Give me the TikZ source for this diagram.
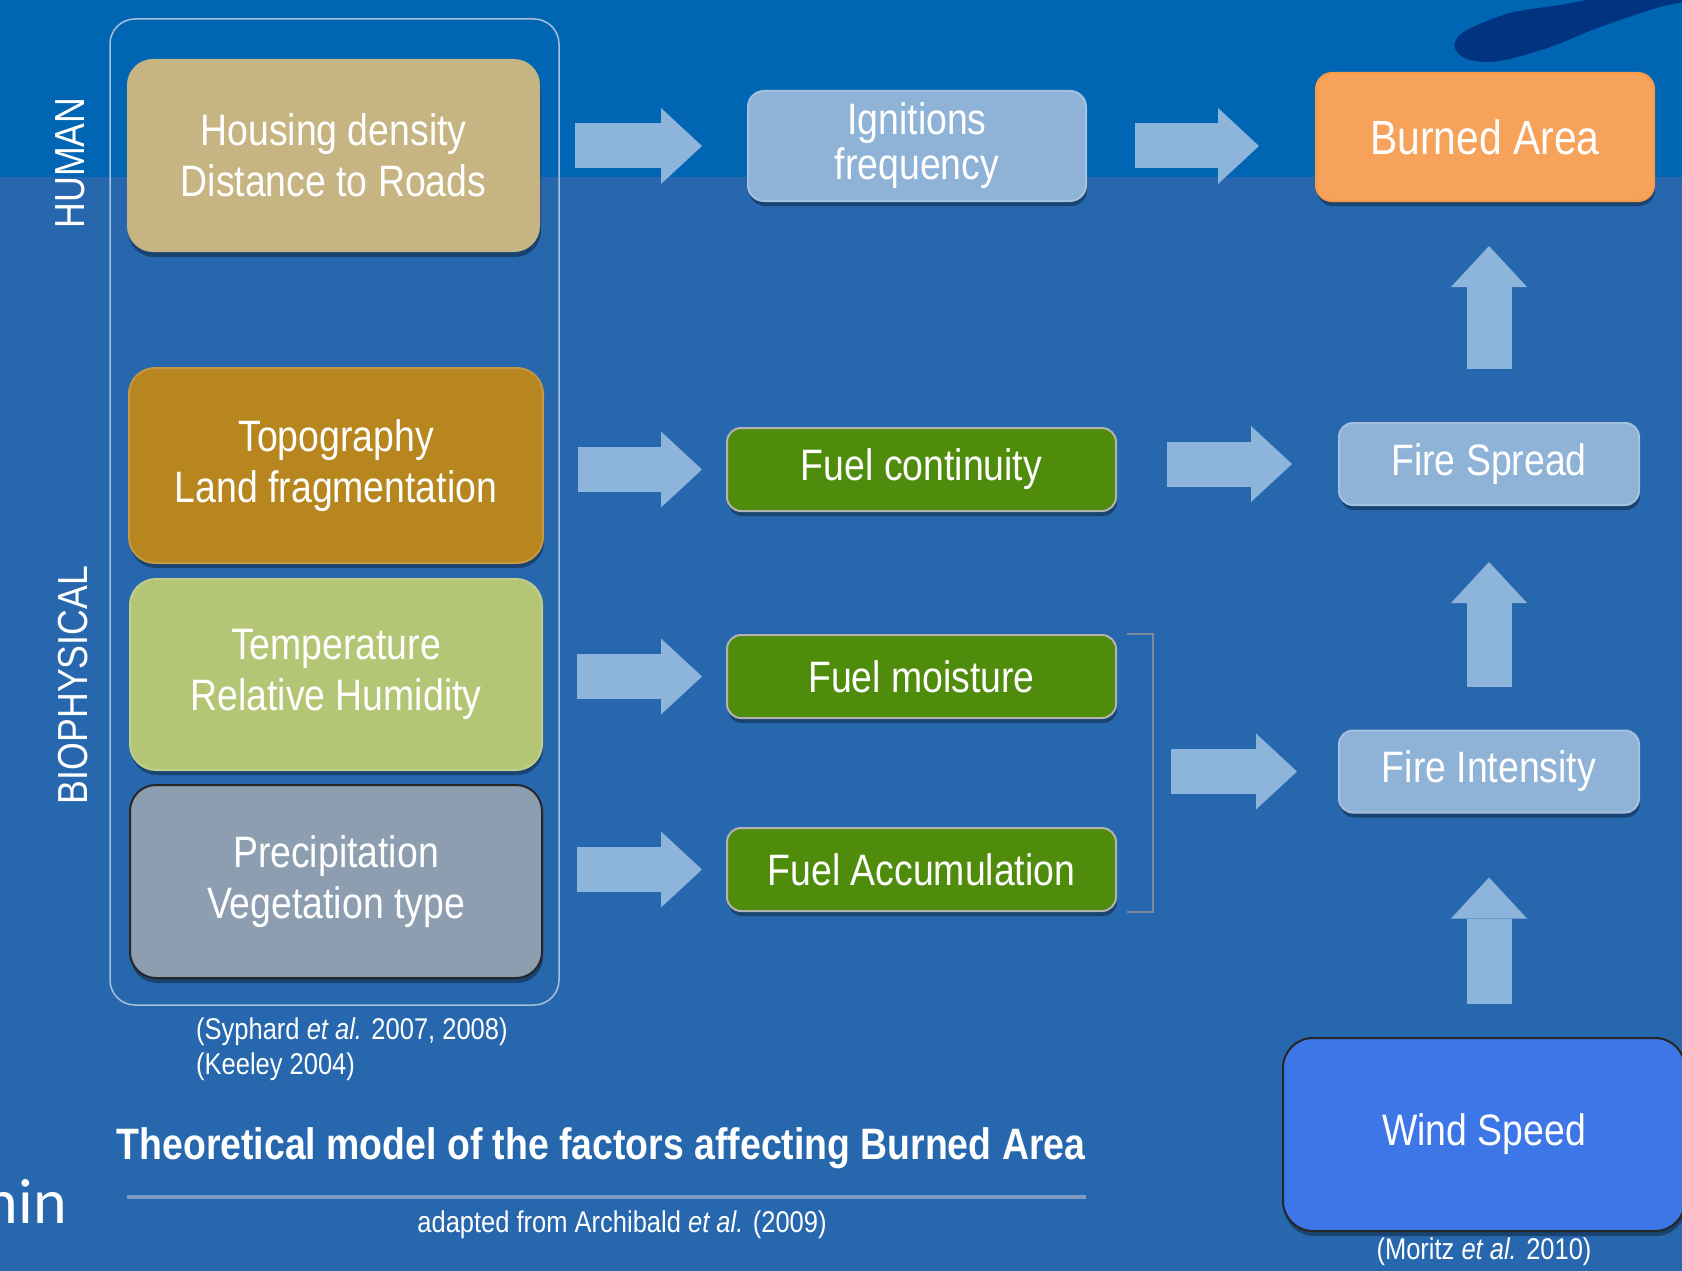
\documentclass[tikz,border=0pt]{standalone}
\usepackage{fontspec}
\usepackage{tikz}
\usetikzlibrary{arrows.meta,shadows}
\newfontfamily\narrowsf[FakeStretch=0.85]{Liberation Sans}
\newfontfamily\calibrisf{Carlito}
\definecolor{SlideTop}{RGB}{0,101,178}
\definecolor{SlideBase}{RGB}{39,103,174}
\definecolor{SlideBlob}{RGB}{0,52,128}
\definecolor{BoxHousing}{RGB}{198,181,131}
\definecolor{BoxTopo}{RGB}{184,134,30}
\definecolor{BoxTemp}{RGB}{180,197,117}
\definecolor{BoxPrecip}{RGB}{142,158,177}
\definecolor{BoxPale}{RGB}{143,178,215}
\definecolor{BoxBurned}{RGB}{246,162,91}
\definecolor{BoxFuel}{RGB}{79,140,12}
\definecolor{BoxWind}{RGB}{61,118,230}
\definecolor{ArrowPale}{RGB}{141,180,218}
\definecolor{FrameLine}{RGB}{168,192,220}
\definecolor{RuleLine}{RGB}{125,155,195}
\definecolor{BracketLine}{RGB}{125,138,153}

\begin{document}
\begin{tikzpicture}[x=1pt,y=-1pt,
  box/.style n args={4}{fill=#1,draw=#2,minimum width=#3,minimum height=#4,rounded corners=26pt,line width=2pt,inner sep=0pt,align=center,text=white,font=\narrowsf\fontsize{44}{51}\selectfont,drop shadow={shadow xshift=1pt,shadow yshift=-5pt,opacity=0.35,fill=black}},
  fatarrow/.style={draw=ArrowPale,line width=45pt,-{Triangle[length=41pt,width=76pt,line width=0pt]}},
  cite/.style={text=white,font=\narrowsf\fontsize{30}{35}\selectfont,inner sep=0pt}]
\useasboundingbox (0,0) rectangle (1682,1271);
\clip (0,0) rectangle (1682,1271);
% slide background
\fill[SlideBase] (0,0) rectangle (1682,1271);
\fill[SlideTop] (0,0) rectangle (1682,177);
\fill[SlideBlob] plot[smooth cycle,tension=0.55] coordinates {(1455,42) (1467,30) (1510,13) (1560,5) (1610,-3) (1700,-6) (1700,-1) (1660,7) (1600,27) (1550,47) (1500,61) (1470,60) (1457,52)};
% left column
\node[draw=FrameLine,line width=1.5pt,rounded corners=25pt,minimum width=449pt,minimum height=986pt] (frame) at (334.5,512) {};
\node[box={BoxHousing}{none}{413pt}{193pt}] (housing) at (333.5,155.5) {Housing density\\Distance to Roads};
\node[box={BoxTopo}{BoxTopo!85!white}{414pt}{195pt}] (topo) at (336,465.5) {Topography\\Land fragmentation};
\node[box={BoxTemp}{BoxTemp!85!white}{412pt}{191pt}] (temp) at (336,674.5) {Temperature\\Relative Humidity};
\node[box={BoxPrecip}{black!85}{412pt}{193pt}] (precip) at (336,881.5) {Precipitation\\Vegetation type};
\node[rotate=90,text=white,font=\narrowsf\fontsize{42}{42}\selectfont] (human) at (70,163) {HUMAN};
\node[rotate=90,text=white,font=\narrowsf\fontsize{42}{42}\selectfont] (bio) at (73.5,685) {BIOPHYSICAL};
\node[cite,align=left,anchor=west] (syphard) at (196,1049) {(Syphard {\itshape et al.} 2007, 2008)\\(Keeley 2004)};
% middle column
\node[box={BoxPale}{BoxPale!80!white}{338pt}{110pt},rounded corners=16pt,font=\narrowsf\fontsize{44}{45}\selectfont] (ignit) at (917,146) {Ignitions\\frequency};
\node[box={BoxFuel}{black!30!white}{389pt}{83pt},rounded corners=14pt] (fuelc) at (921.5,469.5) {Fuel continuity};
\node[box={BoxFuel}{black!30!white}{389pt}{83pt},rounded corners=14pt] (fuelm) at (921.5,676.5) {Fuel moisture};
\node[box={BoxFuel}{black!30!white}{389pt}{83pt},rounded corners=14pt] (fuela) at (921.5,869.5) {Fuel Accumulation};
\coordinate (brk) at (1153,773);
\draw[BracketLine,line width=2.5pt] ([xshift=10pt]fuelm.north east) -| (brk) |- ([xshift=10pt]fuela.south east);
% right column
\node[box={BoxBurned}{BoxBurned!80!orange}{338pt}{128pt},rounded corners=16pt,font=\narrowsf\fontsize{48}{48}\selectfont] (burned) at (1485,137) {Burned Area};
\node[box={BoxPale}{BoxPale!80!white}{300pt}{82pt},rounded corners=14pt] (spread) at (1489,464) {Fire Spread};
\node[box={BoxPale}{BoxPale!80!white}{300pt}{82pt},rounded corners=14pt] (intens) at (1489,771.5) {Fire Intensity};
\node[box={BoxWind}{black!85}{402pt}{193pt},rounded corners=30pt] (wind) at (1484,1134.5) {Wind Speed};
\node[cite] (moritz) at (1484,1252) {(Moritz {\itshape et al.} 2010)};
% arrows
\draw[fatarrow] ([xshift=34pt]housing.east |- ignit.west) -- ([xshift=-45pt]ignit.west);
\draw[fatarrow] ([xshift=48pt]ignit.east) -- ([xshift=-56pt]burned.west |- ignit.east);
\foreach \src/\dst in {topo/fuelc,temp/fuelm,precip/fuela} {
  \draw[fatarrow] ([xshift=34pt]\src.east |- \dst.west) -- ([xshift=-24pt]\dst.west);
}
\draw[fatarrow] ([xshift=50pt]fuelc.east |- spread.west) -- ([xshift=-46pt]spread.west);
\draw[fatarrow] ([xshift=18pt]brk |- intens.west) -- ([xshift=-41pt]intens.west);
\draw[fatarrow] ([yshift=33pt]intens.south |- wind.north) -- ([yshift=-64pt]intens.south);
\draw[fatarrow] ([yshift=43pt]intens.north) -- ([yshift=-56pt]spread.south);
\draw[fatarrow] ([yshift=53pt]spread.north) -- ([yshift=-44pt]burned.south -| spread.north);
% caption
\node[text=white,font=\narrowsf\bfseries\fontsize{44}{44}\selectfont] (title) at (601,1148) {Theoretical model of the factors affecting Burned Area};
\draw[RuleLine,line width=4pt] (127,1197) -- (1086,1197);
\node[cite] (archibald) at (622,1225) {adapted from Archibald {\itshape et al.} (2009)};
\node[text=white,anchor=east,inner sep=0pt,font=\calibrisf\fontsize{64}{64}\selectfont] (cut) at (67,1201) {hin};
\end{tikzpicture}
\end{document}
